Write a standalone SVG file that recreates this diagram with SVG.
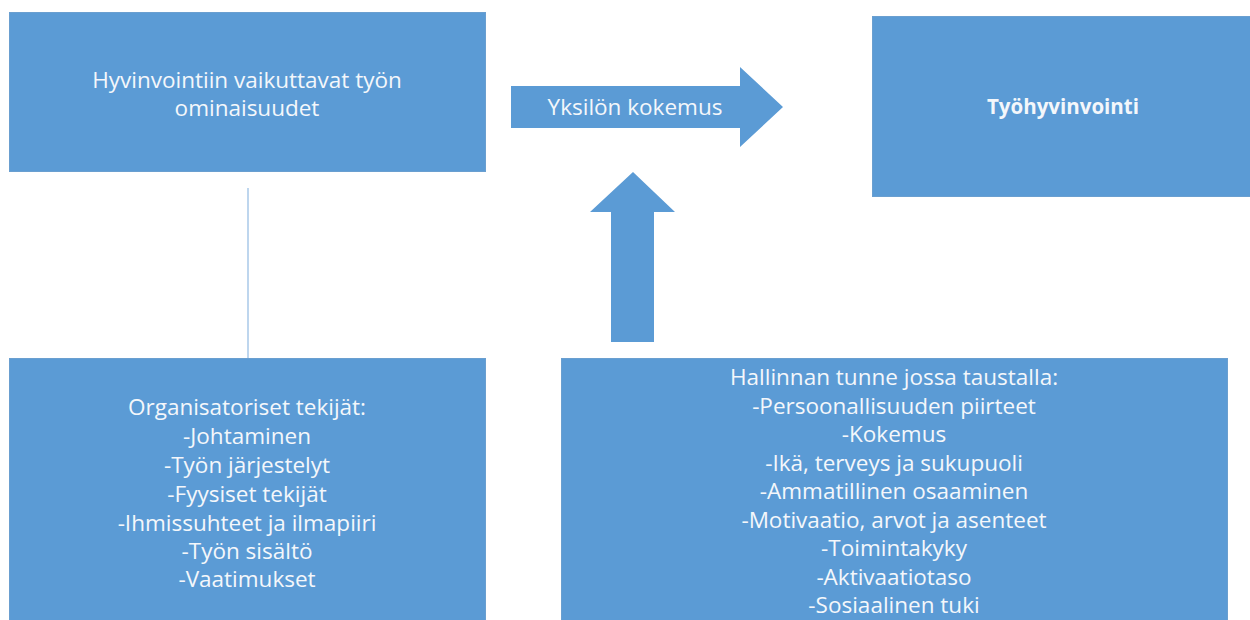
<svg xmlns="http://www.w3.org/2000/svg" width="1250" height="620" viewBox="0 0 1250 620">
<style>
.box{fill:#5b9bd5;stroke:#6a9fd0;stroke-width:1}
.arrow{fill:#5b9bd5}
.t{font-family:"Open Sans","Liberation Sans",sans-serif;font-size:22.5px;fill:#f4f7fb;text-anchor:middle}
.b{font-weight:bold;font-size:20.5px}
.line{stroke:#a8c8e8;stroke-width:1.5;fill:none}
</style>
<rect width="1250" height="620" fill="#ffffff"/>
<g id="connectors">
<line class="line" x1="248" y1="188" x2="248" y2="358"/>
</g>
<g id="node-ominaisuudet">
<rect class="box" x="9.5" y="12.5" width="476" height="159"/>
<text class="t" x="247" y="88">Hyvinvointiin vaikuttavat työn</text>
<text class="t" x="247" y="116">ominaisuudet</text>
</g>
<g id="node-kokemus">
<polygon class="arrow" points="511,86 740,86 740,67 783,107 740,147 740,128 511,128"/>
<text class="t" x="635" y="115">Yksilön kokemus</text>
</g>
<g id="node-up-arrow">
<polygon class="arrow" points="611,342 611,212 590,212 633,172 675,212 654,212 654,342"/>
</g>
<g id="node-tyohyvinvointi">
<rect class="box" x="872.5" y="16.5" width="380" height="180"/>
<text class="t b" x="1063" y="114">Työhyvinvointi</text>
</g>
<g id="node-organisatoriset">
<rect class="box" x="9.5" y="358.5" width="476" height="270"/>
<text class="t" x="247" y="415">Organisatoriset tekijät:</text>
<text class="t" x="247" y="444">-Johtaminen</text>
<text class="t" x="247" y="473">-Työn järjestelyt</text>
<text class="t" x="247" y="502">-Fyysiset tekijät</text>
<text class="t" x="247" y="531">-Ihmissuhteet ja ilmapiiri</text>
<text class="t" x="247" y="559">-Työn sisältö</text>
<text class="t" x="247" y="587">-Vaatimukset</text>
</g>
<g id="node-hallinnan">
<rect class="box" x="561.5" y="358.5" width="666" height="270"/>
<text class="t" x="894" y="385">Hallinnan tunne jossa taustalla:</text>
<text class="t" x="894" y="414">-Persoonallisuuden piirteet</text>
<text class="t" x="894" y="442">-Kokemus</text>
<text class="t" x="894" y="471">-Ikä, terveys ja sukupuoli</text>
<text class="t" x="894" y="499">-Ammatillinen osaaminen</text>
<text class="t" x="894" y="528">-Motivaatio, arvot ja asenteet</text>
<text class="t" x="894" y="556">-Toimintakyky</text>
<text class="t" x="894" y="585">-Aktivaatiotaso</text>
<text class="t" x="894" y="613">-Sosiaalinen tuki</text>
</g>
</svg>
